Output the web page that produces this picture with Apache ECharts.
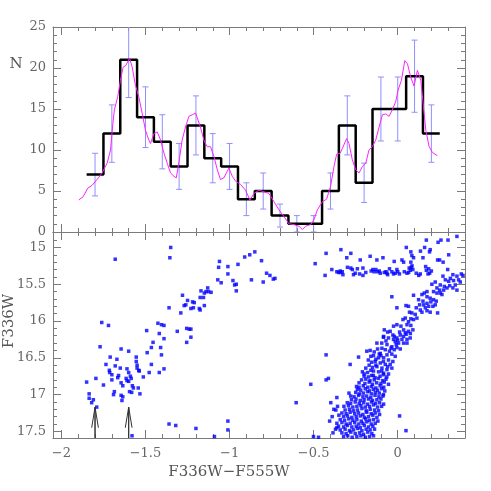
<!DOCTYPE html>
<html>
<head>
<meta charset="utf-8">
<script src="https://cdn.jsdelivr.net/npm/echarts@6/dist/echarts.min.js"></script>
<style>html,body{margin:0;padding:0;background:#fff}#main{width:491px;height:491px}</style>
</head>
<body>
<div id="main"></div>
<script>
// ---- top panel: colour histogram ----
var binCenters = [-1.8,-1.7,-1.6,-1.5,-1.4,-1.3,-1.2,-1.1,-1.0,-0.9,-0.8,-0.7,-0.6,-0.5,-0.4,-0.3,-0.2,-0.1,0.0,0.1,0.2];
var counts     = [7,12,21,14,11,8,13,9,8,4,5,2,1,1,5,13,6,15,15,19,12];
var countErr   = [2.6,3.5,4.6,3.7,3.3,2.8,3.6,3.0,2.8,2.0,2.2,1.4,1.0,1.0,2.2,3.6,2.4,3.9,3.9,4.4,3.5];
var binWidth = 0.1;

// smoothed (kernel) distribution, magenta
var smoothN = [[-1.897,3.9],[-1.871,4.3],[-1.843,5.35],[-1.817,5.7],[-1.788,6.4],[-1.758,7.2],[-1.728,8.4],[-1.708,10.0],[-1.694,13.2],[-1.685,14.9],[-1.665,16.5],[-1.649,18.5],[-1.633,20.1],[-1.617,20.3],[-1.609,20.1],[-1.595,21.2],[-1.579,20.1],[-1.56,17.9],[-1.54,16.5],[-1.52,14.5],[-1.5,12.4],[-1.48,11.2],[-1.47,10.8],[-1.45,12.0],[-1.43,12.2],[-1.41,11.2],[-1.39,9.6],[-1.371,8.4],[-1.351,7.2],[-1.331,6.8],[-1.317,6.6],[-1.302,8.4],[-1.282,11.2],[-1.262,12.8],[-1.242,14.1],[-1.222,14.3],[-1.202,14.5],[-1.192,13.9],[-1.173,12.8],[-1.153,11.2],[-1.133,10.4],[-1.113,10.4],[-1.093,9.2],[-1.073,7.6],[-1.054,6.4],[-1.034,6.6],[-1.004,7.8],[-0.984,6.8],[-0.964,6.2],[-0.935,5.8],[-0.905,5.1],[-0.879,3.9],[-0.855,4.7],[-0.825,5.1],[-0.796,4.9],[-0.766,4.7],[-0.736,3.7],[-0.706,2.7],[-0.677,1.9],[-0.647,1.0],[-0.617,0.9],[-0.587,0.7],[-0.567,0.3],[-0.548,0.7],[-0.518,0.9],[-0.498,1.5],[-0.478,2.7],[-0.448,3.7],[-0.423,4.0],[-0.399,5.6],[-0.379,8.0],[-0.363,9.5],[-0.343,9.6],[-0.329,10.2],[-0.304,11.4],[-0.29,10.8],[-0.27,8.8],[-0.25,7.6],[-0.23,7.2],[-0.21,8.0],[-0.19,8.4],[-0.171,10.0],[-0.151,10.4],[-0.131,11.2],[-0.111,12.8],[-0.091,14.3],[-0.071,14.4],[-0.052,14.1],[-0.032,14.9],[-0.012,15.9],[0.002,17.3],[0.022,18.5],[0.042,20.9],[0.058,20.5],[0.077,18.9],[0.097,17.8],[0.117,19.7],[0.127,19.9],[0.137,18.5],[0.153,15.3],[0.167,12.4],[0.187,10.4],[0.206,9.7],[0.236,9.3]];

// ---- bottom panel: CMD stars [colour, F336W] ----
var blueStars = [[-1.35,15.0],[-1.355,15.14],[-1.68,15.16],[-1.36,15.82],[-1.28,15.65],[-1.27,15.79],[-1.26,15.78],[-1.25,15.72],[-1.29,15.89],[-1.23,15.83],[-1.22,15.74],[-1.21,15.75],[-1.215,15.82],[-1.18,15.83],[-1.175,15.85],[-1.15,15.79],[-1.175,15.68],[-1.155,15.68],[-1.17,15.59],[-1.15,15.62],[-1.14,15.6],[-1.13,15.55],[-1.125,15.6],[-1.11,15.61],
  [-1.06,15.19],[-1.065,15.27],[-1.01,15.26],[-1.07,15.44],[-1.05,15.48],[-1.01,15.36],[-0.98,15.45],[-0.97,15.51],[-0.96,15.5],[-0.96,15.59],[-0.95,15.23],[-0.91,15.13],[-0.88,15.1],
  [-0.85,15.06],[-0.81,15.18],[-0.87,15.44],[-0.80,15.47],[-0.78,15.35],[-0.76,15.38],[-0.74,15.43],[-0.73,15.42]];

var ehbStars = [[-1.76,16.02],[-1.72,16.06],[-1.77,16.35],[-1.85,16.83],[-1.795,16.78],[-1.835,16.99],[-1.835,17.05],[-1.82,17.11],[-1.81,17.07],[-1.79,17.17],[-1.75,16.87],[-1.735,16.59],[-1.71,16.49],[-1.715,16.67],[-1.713,16.70],[-1.70,16.80],[-1.70,16.73],[-1.68,16.61],[-1.67,16.52],[-1.645,16.38],[-1.685,16.96],[-1.69,17.0],[-1.65,16.64],[-1.66,16.74],[-1.665,16.77],[-1.645,16.84],[-1.635,16.88],[-1.645,17.01],[-1.635,17.03],[-1.64,17.08],[-1.615,16.78],[-1.61,16.81],[-1.6,16.41],[-1.61,16.65],[-1.6,16.70],[-1.59,16.75],[-1.585,16.78],[-1.6,16.82],[-1.578,16.88],[-1.595,16.96],[-1.582,16.97],[-1.572,16.91],[-1.555,16.49],[-1.555,16.55],[-1.55,16.60],[-1.55,16.64],[-1.54,16.67],[-1.537,16.68],[-1.513,16.76],[-1.543,16.91],[-1.533,16.99],[-1.493,16.13],[-1.49,16.43],[-1.478,16.70],[-1.465,16.59],[-1.465,16.36],[-1.455,16.29],[-1.426,16.03],[-1.418,16.17],[-1.405,16.05],[-1.39,16.06],[-1.41,16.36],[-1.405,16.46],[-1.418,16.70],[-1.39,16.65],[-1.39,16.24],[-1.311,16.14],[-1.255,16.10],[-1.24,16.11],[-1.23,16.11],[-1.255,16.29],[-1.23,16.22],
  [-1.36,17.40],[-1.32,17.42],[-1.20,17.46],[-1.09,17.57],[-1.01,17.36],[-1.01,17.48],[-1.58,17.56]];

var hbStars = [[-0.491,15.22],[-0.426,15.08],[-0.432,15.38],[-0.392,15.30],[-0.362,15.33],[-0.352,15.34],[-0.342,15.32],[-0.338,15.03],[-0.326,15.37],[-0.303,15.14],[-0.279,15.08],[-0.299,15.27],[-0.279,15.28],[-0.263,15.37],[-0.253,15.35],[-0.227,15.36],[-0.223,15.17],[-0.207,15.28],[-0.207,15.38],[-0.164,15.12],[-0.158,15.32],[-0.148,15.30],[-0.140,15.33],[-0.130,15.30],[-0.120,15.33],[-0.104,15.35],[-0.080,15.34],[-0.064,15.35],[-0.124,15.17],[-0.088,15.14],[-0.049,15.29],[-0.035,15.33],[-0.025,15.36],[-0.015,15.35],[-0.005,15.30],[-0.021,15.19],[0.025,15.17],[0.035,15.20],[0.051,15.00],[0.078,15.06],[0.084,15.11],[0.094,15.14],[0.078,15.20],[0.039,15.33],[0.055,15.35],[0.068,15.28],[0.080,15.27],[0.090,15.30],[0.134,15.36],[0.150,15.14],[0.166,15.26],[0.184,15.29],[0.170,14.90],[0.193,15.03],[0.189,15.06],[0.237,15.17],[0.249,15.17],[0.257,14.90],[0.299,14.90],[0.303,15.10],[0.352,14.85],[0.297,15.30],
  [-0.34,15.34],[-0.33,15.33],[-0.27,15.30],[-0.24,15.29],[-0.19,15.34],[-0.11,15.32],[-0.07,15.33],[-0.06,15.37],[0.0,15.33],[0.01,15.36],[0.065,15.34],[0.075,15.31],[0.085,15.25],[0.11,15.35],[0.125,15.38],[0.17,15.31],[0.18,15.36],[0.2,15.32],[0.19,15.35],[0.135,15.05],[0.16,15.0],[0.24,14.93],[0.27,15.2]];

var rgbUpper = [[0.269,15.39],[0.283,15.44],[0.313,15.42],[0.328,15.37],[0.332,15.45],[0.352,15.39],[0.362,15.44],[0.378,15.36],[0.388,15.38],
  [0.203,15.50],[0.174,15.60],[0.158,15.62],[0.213,15.60],[0.233,15.62],[0.253,15.62],[0.144,15.64],[0.174,15.67],[0.193,15.69],[0.213,15.71],[0.229,15.73],[0.197,15.74],[0.174,15.76],[0.154,15.78],[0.184,15.80],[0.209,15.80],[0.223,15.78],[0.164,15.82],[0.134,15.85],[0.110,15.82],[0.094,15.65],[0.124,15.71],[0.150,15.73],[0.130,15.78],[0.174,15.86],[0.193,15.88],[0.237,15.89],[0.144,15.88],[0.104,15.91],[0.084,15.89],[0.064,15.80],[0.049,15.79],[0.070,15.88],[0.114,15.96],[0.094,15.98],[0.078,15.97],[0.064,16.01],[0.045,15.96],[0.031,15.98],[0.055,16.05],[0.019,16.07],[-0.005,16.05],[-0.025,16.07],[0.078,16.06],[-0.035,15.67],[-0.005,15.82],
  [0.273,15.58],[0.293,15.55],[0.309,15.52],[0.328,15.55],[0.352,15.58],[0.253,15.51],[0.223,15.47],[0.342,15.51],[0.372,15.47],[0.303,15.46],[0.277,15.53],[0.249,15.58],[0.233,15.55],[0.263,15.64]];

var rgbMiddle = [[0.064,16.14],[0.045,16.16],[0.035,16.21],[0.015,16.19],[-0.005,16.23],[0.025,16.25],[0.055,16.25],[0.074,16.23],[-0.015,16.28],[0.005,16.30],[0.035,16.30],[-0.029,16.19],[-0.045,16.14],[-0.055,16.23],[-0.084,16.21],[-0.064,16.32],[-0.035,16.35],[-0.005,16.36],[0.015,16.38],[-0.021,16.39],[-0.049,16.41],[-0.074,16.39],[-0.094,16.37],[-0.124,16.30],[-0.104,16.44],[-0.064,16.46],[-0.035,16.45],[-0.015,16.48],[-0.084,16.50],[-0.055,16.53],[-0.029,16.55],[-0.114,16.50],[-0.134,16.55],[-0.104,16.57],[-0.074,16.59],[-0.045,16.59],[-0.124,16.62],[-0.094,16.64],[-0.064,16.66],[-0.035,16.64],[-0.144,16.68],[-0.114,16.69],[-0.084,16.71],[-0.055,16.72],[-0.184,16.41],[-0.164,16.40],[-0.233,16.49],[-0.283,16.59],[-0.144,16.47],[-0.009,16.32],[-0.025,16.25],[0.011,16.15],[0.055,16.30],
  [0.035,16.12],[0.05,16.18],[0.0,16.26],[-0.02,16.21],[-0.04,16.37],[-0.1,16.47],[-0.085,16.55],[-0.06,16.62],[-0.13,16.6],[-0.095,16.68],[-0.15,16.63],
  [-0.085,16.22],[-0.07,16.27],[-0.095,16.30],[0.075,16.17],[0.09,16.12],[-0.06,16.15],[-0.08,16.12],
  [-0.12,16.38],[-0.14,16.42],[-0.11,16.45],[-0.16,16.48],[-0.13,16.52],[-0.155,16.56],[-0.175,16.53],
  [-0.17,16.6],[-0.19,16.64],[-0.16,16.67],[-0.18,16.7],[-0.2,16.72],[-0.145,16.74],[-0.21,16.69]];

var rgbLower = [[-0.20,16.75],[-0.175,16.76],[-0.155,16.74],[-0.135,16.77],[-0.105,16.75],[-0.085,16.73],[-0.065,16.76],
  [-0.215,16.80],[-0.19,16.79],[-0.165,16.81],[-0.14,16.80],[-0.115,16.78],[-0.09,16.81],[-0.07,16.79],
  [-0.23,16.84],[-0.195,16.85],[-0.17,16.83],[-0.15,16.86],[-0.125,16.84],[-0.10,16.85],[-0.08,16.83],[-0.055,16.86],
  [-0.245,16.89],[-0.23,16.90],[-0.205,16.88],[-0.178,16.90],[-0.155,16.89],[-0.13,16.91],[-0.105,16.88],[-0.083,16.90],
  [-0.24,16.93],[-0.22,16.94],[-0.193,16.92],[-0.168,16.95],[-0.145,16.93],[-0.12,16.94],[-0.095,16.92],[-0.077,16.95],
  [-0.29,16.98],[-0.25,16.97],[-0.228,16.99],[-0.205,16.98],[-0.18,16.96],[-0.157,16.99],[-0.133,16.97],[-0.11,16.98],[-0.085,17.00],
  [-0.28,17.02],[-0.26,17.03],[-0.233,17.01],[-0.207,17.03],[-0.185,17.02],[-0.16,17.04],[-0.135,17.01],[-0.112,17.03],[-0.088,17.02],
  [-0.275,17.07],[-0.248,17.06],[-0.223,17.08],[-0.2,17.07],[-0.174,17.06],[-0.15,17.08],[-0.124,17.07],[-0.10,17.06],
  [-0.30,17.11],[-0.28,17.12],[-0.253,17.10],[-0.229,17.12],[-0.203,17.11],[-0.18,17.13],[-0.156,17.10],[-0.132,17.12],[-0.108,17.11],[-0.084,17.13],
  [-0.32,17.16],[-0.293,17.15],[-0.267,17.17],[-0.243,17.16],[-0.219,17.15],[-0.193,17.17],[-0.168,17.16],[-0.144,17.14],[-0.12,17.17],[-0.096,17.16],
  [-0.313,17.21],[-0.287,17.20],[-0.263,17.22],[-0.239,17.21],[-0.213,17.19],[-0.188,17.22],[-0.164,17.20],[-0.138,17.21],[-0.114,17.22],
  [-0.332,17.25],[-0.307,17.26],[-0.283,17.24],[-0.256,17.26],[-0.233,17.25],[-0.207,17.27],[-0.184,17.24],[-0.158,17.26],[-0.134,17.25],[-0.108,17.27],
  [-0.322,17.30],[-0.299,17.29],[-0.273,17.31],[-0.247,17.30],[-0.223,17.29],[-0.199,17.31],[-0.174,17.30],[-0.148,17.28],[-0.124,17.31],
  [-0.342,17.34],[-0.316,17.35],[-0.291,17.33],[-0.267,17.35],[-0.243,17.34],[-0.217,17.36],[-0.191,17.33],[-0.168,17.35],[-0.144,17.34],[-0.118,17.36],
  [-0.362,17.39],[-0.332,17.38],[-0.307,17.40],[-0.283,17.39],[-0.256,17.38],[-0.231,17.40],[-0.207,17.39],[-0.184,17.37],[-0.158,17.40],[-0.134,17.39],
  [-0.352,17.43],[-0.322,17.44],[-0.299,17.42],[-0.273,17.44],[-0.247,17.43],[-0.223,17.45],[-0.199,17.42],[-0.174,17.44],[-0.148,17.43],
  [-0.342,17.48],[-0.313,17.47],[-0.287,17.49],[-0.263,17.48],[-0.239,17.46],[-0.213,17.49],[-0.188,17.47],[-0.164,17.48],[-0.138,17.47],
  [-0.332,17.52],[-0.307,17.53],[-0.279,17.51],[-0.253,17.53],[-0.227,17.52],[-0.203,17.54],[-0.178,17.51],[-0.154,17.53],
  [-0.322,17.57],[-0.297,17.56],[-0.271,17.58],[-0.243,17.57],[-0.219,17.56],[-0.193,17.58],[-0.168,17.57],[-0.144,17.56],
  [-0.38,17.2],[-0.39,17.3],[-0.37,17.47],[-0.35,17.28],[-0.385,17.52]];

var fieldStars = [[-0.398,17.11],[-0.362,17.04],[-0.358,17.16],[-0.368,17.21],[-0.604,17.11],[-0.517,16.86],[-0.426,16.80],[-0.412,16.78],[-0.426,16.46],[-0.501,17.57],[-0.471,17.58],[0.011,17.29],[0.049,17.49],[-0.362,17.45],[-0.405,17.36]];

// arrows marking the two EHB groups
var arrowColours = [-1.8, -1.6];
var arrowTip = 17.17, arrowHead = 17.45, arrowBase = 17.59;

var xTickLabels = [-2, -1.5, -1, -0.5, 0];
var nTickLabels = [0, 5, 10, 15, 20, 25];
var magTickLabels = [15, 15.5, 16, 16.5, 17, 17.5];

var X_MIN = -2.05, X_MAX = 0.4, N_MAX = 25, M_MIN = 14.79, M_MAX = 17.59;

var myChart = echarts.init(document.getElementById('main'));

function steps(a, b, s) {
  var out = [];
  for (var i = 0; a + i * s <= b + 1e-9; i++) out.push(Math.round((a + i * s) * 100) / 100);
  return out;
}
var xMinor = steps(-2, 0.4, 0.1);
var nMinor = steps(0, 25, 1);
var magMinor = steps(14.8, 17.5, 0.1);

function fmt(v) { return String(v).replace('-', '\u2212'); }

var FONT = 'DejaVu Serif';
var AXC = '#7a7a7a';

function mkAxis(grid, pos, min, max, ticks, major, labels, inverse) {
  return {
    type: 'value', gridIndex: grid, position: pos, min: min, max: max, inverse: !!inverse,
    splitLine: { show: false },
    axisLine: { show: major, onZero: false, lineStyle: { color: AXC, width: 1 } },
    axisTick: { show: true, inside: true, length: major ? 8 : 4, customValues: ticks, lineStyle: { color: AXC, width: 1 } },
    axisLabel: labels ? { show: true, customValues: labels, formatter: fmt, color: '#666', fontFamily: FONT, fontSize: 13, margin: 7 } : { show: false }
  };
}

var xAxes = [
  mkAxis(0, 'bottom', X_MIN, X_MAX, xTickLabels, true, null),
  mkAxis(0, 'bottom', X_MIN, X_MAX, xMinor, false, null),
  mkAxis(0, 'top', X_MIN, X_MAX, xTickLabels, true, null),
  mkAxis(0, 'top', X_MIN, X_MAX, xMinor, false, null),
  mkAxis(1, 'bottom', X_MIN, X_MAX, xTickLabels, true, xTickLabels),
  mkAxis(1, 'bottom', X_MIN, X_MAX, xMinor, false, null),
  mkAxis(1, 'top', X_MIN, X_MAX, xTickLabels, true, null),
  mkAxis(1, 'top', X_MIN, X_MAX, xMinor, false, null)
];
xAxes[4].axisLabel.margin = 9;
var yAxes = [
  mkAxis(0, 'left', 0, N_MAX, nTickLabels, true, nTickLabels),
  mkAxis(0, 'left', 0, N_MAX, nMinor, false, null),
  mkAxis(0, 'right', 0, N_MAX, nTickLabels, true, null),
  mkAxis(0, 'right', 0, N_MAX, nMinor, false, null),
  mkAxis(1, 'left', M_MIN, M_MAX, magTickLabels, true, magTickLabels, true),
  mkAxis(1, 'left', M_MIN, M_MAX, magMinor, false, null, true),
  mkAxis(1, 'right', M_MIN, M_MAX, magTickLabels, true, null, true),
  mkAxis(1, 'right', M_MIN, M_MAX, magMinor, false, null, true)
];

// step outline of the histogram
var histLine = [];
for (var i = 0; i < binCenters.length; i++) {
  histLine.push([binCenters[i] - binWidth / 2, counts[i]]);
  histLine.push([binCenters[i] + binWidth / 2, counts[i]]);
}
var errData = [];
for (var i = 0; i < binCenters.length; i++) {
  errData.push([binCenters[i], counts[i] - countErr[i], counts[i] + countErr[i]]);
}

var series = [
  {
    type: 'custom', xAxisIndex: 0, yAxisIndex: 0, clip: true, z: 2,
    data: errData, encode: { x: 0, y: [1, 2] },
    renderItem: function (params, api) {
      var lo = api.coord([api.value(0), api.value(1)]);
      var hi = api.coord([api.value(0), api.value(2)]);
      var w = 3;
      var st = { stroke: '#8f8fff', lineWidth: 1 };
      return { type: 'group', children: [
        { type: 'line', shape: { x1: lo[0], y1: lo[1], x2: hi[0], y2: hi[1] }, style: st },
        { type: 'line', shape: { x1: lo[0] - w, y1: lo[1], x2: lo[0] + w, y2: lo[1] }, style: st },
        { type: 'line', shape: { x1: hi[0] - w, y1: hi[1], x2: hi[0] + w, y2: hi[1] }, style: st }
      ] };
    }
  },
  {
    type: 'line', xAxisIndex: 0, yAxisIndex: 0, data: histLine, symbol: 'none', z: 3,
    lineStyle: { color: '#000', width: 2.5 }, animation: false
  },
  {
    type: 'line', xAxisIndex: 0, yAxisIndex: 0, data: smoothN, symbol: 'none', z: 4,
    lineStyle: { color: '#ff22ff', width: 1 }, animation: false
  }
];

[blueStars, ehbStars, hbStars, rgbUpper, rgbMiddle, rgbLower, fieldStars].forEach(function (g) {
  series.push({
    type: 'scatter', xAxisIndex: 4, yAxisIndex: 4, data: g, symbol: 'rect', symbolSize: 3.5,
    itemStyle: { color: '#0000ff' }, animation: false
  });
});

arrowColours.forEach(function (c) {
  series.push({
    type: 'line', xAxisIndex: 4, yAxisIndex: 4, symbol: 'none', animation: false,
    data: [[c - 0.02, arrowHead], [c, arrowTip], [c, arrowBase], [c, arrowTip], [c + 0.02, arrowHead]],
    lineStyle: { color: '#333', width: 1 }
  });
});

var option = {
  backgroundColor: '#fff',
  animation: false,
  grid: [
    { left: 53, top: 27, width: 412, height: 205 },
    { left: 53, top: 232, width: 412, height: 206 }
  ],
  xAxis: xAxes,
  yAxis: yAxes,
  series: series,
  graphic: [
    { type: 'text', x: 16, y: 64, style: { text: 'N', fill: '#555', font: '15px "DejaVu Serif"', textAlign: 'center', textVerticalAlign: 'middle' } },
    { type: 'text', x: 9, y: 321, rotation: Math.PI / 2, style: { text: 'F336W', fill: '#555', font: '15px "DejaVu Serif"', textAlign: 'center', textVerticalAlign: 'middle' } },
    { type: 'text', x: 229, y: 472, style: { text: 'F336W\u2212F555W', fill: '#555', font: '15px "DejaVu Serif"', textAlign: 'center', textVerticalAlign: 'middle' } }
  ]
};

myChart.setOption(option);
</script>
</body>
</html>
